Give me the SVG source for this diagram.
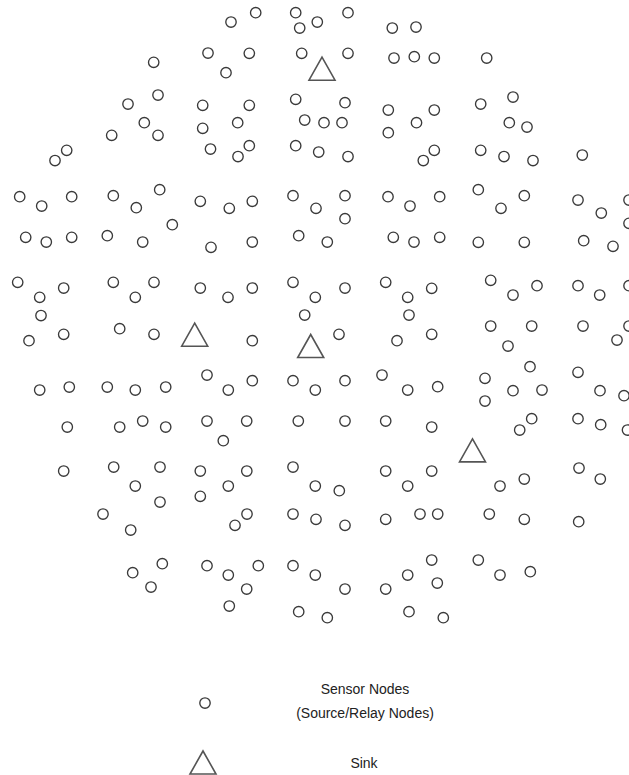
<svg xmlns="http://www.w3.org/2000/svg" width="629" height="775" viewBox="0 0 629 775">
<style>
.s{fill:none;stroke:#3a3a3a;stroke-width:1.35}
.k{fill:none;stroke:#555;stroke-width:1.6;stroke-linejoin:miter}
.t{font-family:"Liberation Sans",Arial,sans-serif;font-size:14px;fill:#222;text-anchor:middle}
</style>
<defs>
<circle id="c" r="5.2" class="s"/>
<path id="tri" d="M0,-11.5 L13,11.5 L-13,11.5 Z" class="k"/>
</defs>
<rect width="629" height="775" fill="#fff"/>
<g id="sensors">
<use id="s1" href="#c" x="231" y="22"/><use id="s2" href="#c" x="255.7" y="12.7"/><use id="s3" href="#c" x="295.7" y="12.7"/><use id="s4" href="#c" x="299.7" y="28"/><use id="s5" href="#c" x="317.3" y="22"/><use id="s6" href="#c" x="348" y="12.7"/><use id="s7" href="#c" x="392.3" y="28"/><use id="s8" href="#c" x="416" y="27"/>
<use id="s9" href="#c" x="153.7" y="62.3"/><use id="s10" href="#c" x="208" y="53"/><use id="s11" href="#c" x="249.3" y="53.3"/><use id="s12" href="#c" x="226" y="72.7"/><use id="s13" href="#c" x="301.7" y="53.3"/><use id="s14" href="#c" x="348" y="53.3"/><use id="s15" href="#c" x="394" y="58"/><use id="s16" href="#c" x="414.3" y="56.7"/><use id="s17" href="#c" x="434.3" y="58"/><use id="s18" href="#c" x="486.7" y="58"/>
<use id="s19" href="#c" x="158" y="95"/><use id="s20" href="#c" x="128" y="104"/><use id="s21" href="#c" x="144.3" y="122.7"/><use id="s22" href="#c" x="158" y="135.3"/><use id="s23" href="#c" x="111.7" y="135.3"/><use id="s24" href="#c" x="66.7" y="150.3"/><use id="s25" href="#c" x="55" y="160.5"/><use id="s26" href="#c" x="202.7" y="105.3"/><use id="s27" href="#c" x="202.7" y="128.3"/>
<use id="s28" href="#c" x="295.7" y="99.3"/><use id="s29" href="#c" x="345" y="102.7"/><use id="s30" href="#c" x="249.3" y="105.3"/><use id="s31" href="#c" x="237.7" y="122.7"/><use id="s32" href="#c" x="304.7" y="120"/><use id="s33" href="#c" x="324" y="122.7"/><use id="s34" href="#c" x="342" y="122.7"/><use id="s35" href="#c" x="388.3" y="110"/><use id="s36" href="#c" x="388.3" y="132.7"/><use id="s37" href="#c" x="416.5" y="122.7"/>
<use id="s38" href="#c" x="210.5" y="149"/><use id="s39" href="#c" x="249.3" y="145.7"/><use id="s40" href="#c" x="238" y="156.5"/><use id="s41" href="#c" x="295.7" y="145.7"/><use id="s42" href="#c" x="318.7" y="152"/><use id="s43" href="#c" x="348" y="156.5"/>
<use id="s44" href="#c" x="434.3" y="110"/><use id="s45" href="#c" x="480.7" y="104"/><use id="s46" href="#c" x="513" y="97"/><use id="s47" href="#c" x="509.3" y="122.7"/><use id="s48" href="#c" x="527" y="127"/><use id="s49" href="#c" x="434.3" y="150.3"/><use id="s50" href="#c" x="423.3" y="160.5"/><use id="s51" href="#c" x="480.7" y="150.3"/><use id="s52" href="#c" x="504" y="156.5"/><use id="s53" href="#c" x="533" y="160.5"/><use id="s54" href="#c" x="582.3" y="155"/>
<use id="s55" href="#c" x="19.7" y="196.7"/><use id="s56" href="#c" x="41.7" y="206"/><use id="s57" href="#c" x="71.7" y="196.7"/><use id="s58" href="#c" x="113.3" y="195.7"/><use id="s59" href="#c" x="136.3" y="207.7"/><use id="s60" href="#c" x="159.7" y="189.7"/><use id="s61" href="#c" x="200.3" y="201.3"/><use id="s62" href="#c" x="172.3" y="224.7"/>
<use id="s63" href="#c" x="25.7" y="237.3"/><use id="s64" href="#c" x="46.3" y="242"/><use id="s65" href="#c" x="71.7" y="237.3"/><use id="s66" href="#c" x="107.3" y="235.7"/><use id="s67" href="#c" x="142.7" y="242"/><use id="s68" href="#c" x="211" y="247.3"/>
<use id="s69" href="#c" x="229.3" y="208.3"/><use id="s70" href="#c" x="252.3" y="201.3"/><use id="s71" href="#c" x="293" y="195.7"/><use id="s72" href="#c" x="316" y="208.3"/><use id="s73" href="#c" x="345" y="195.7"/><use id="s74" href="#c" x="345" y="218.7"/><use id="s75" href="#c" x="388" y="196.7"/><use id="s76" href="#c" x="410" y="206"/>
<use id="s77" href="#c" x="252.3" y="242"/><use id="s78" href="#c" x="298.7" y="235.7"/><use id="s79" href="#c" x="327.3" y="242"/><use id="s80" href="#c" x="393.3" y="237.3"/><use id="s81" href="#c" x="414" y="242"/>
<use id="s82" href="#c" x="439.7" y="196.7"/><use id="s83" href="#c" x="478.3" y="189.7"/><use id="s84" href="#c" x="501" y="208.3"/><use id="s85" href="#c" x="524.3" y="195.7"/><use id="s86" href="#c" x="578" y="200"/><use id="s87" href="#c" x="601.3" y="213"/><use id="s88" href="#c" x="629" y="200"/><use id="s89" href="#c" x="629" y="223.3"/>
<use id="s90" href="#c" x="439.7" y="237.3"/><use id="s91" href="#c" x="478.3" y="242.3"/><use id="s92" href="#c" x="524.3" y="242.3"/><use id="s93" href="#c" x="583.7" y="240.7"/><use id="s94" href="#c" x="613" y="246.3"/>
<use id="s95" href="#c" x="17.7" y="282.3"/><use id="s96" href="#c" x="39.7" y="297.3"/><use id="s97" href="#c" x="63.7" y="288"/><use id="s98" href="#c" x="113.3" y="282.3"/><use id="s99" href="#c" x="135.3" y="297.3"/><use id="s100" href="#c" x="154" y="282.3"/><use id="s101" href="#c" x="200.3" y="288"/>
<use id="s102" href="#c" x="228" y="297.3"/><use id="s103" href="#c" x="252.3" y="288"/><use id="s104" href="#c" x="293" y="282.3"/><use id="s105" href="#c" x="315.3" y="297.3"/><use id="s106" href="#c" x="345" y="288"/><use id="s107" href="#c" x="385.7" y="282.3"/><use id="s108" href="#c" x="407.7" y="297.3"/>
<use id="s109" href="#c" x="431.7" y="288.3"/><use id="s110" href="#c" x="490.7" y="280.3"/><use id="s111" href="#c" x="513" y="295"/><use id="s112" href="#c" x="537" y="285.7"/><use id="s113" href="#c" x="578" y="285.7"/><use id="s114" href="#c" x="599.7" y="295"/><use id="s115" href="#c" x="629" y="285.7"/>
<use id="s116" href="#c" x="41" y="315.5"/><use id="s117" href="#c" x="29" y="340.7"/><use id="s118" href="#c" x="63.7" y="334.3"/><use id="s119" href="#c" x="119.7" y="328.7"/><use id="s120" href="#c" x="154" y="334.3"/>
<use id="s121" href="#c" x="304.7" y="315"/><use id="s122" href="#c" x="409" y="315"/><use id="s123" href="#c" x="252.3" y="340.7"/><use id="s124" href="#c" x="339" y="334.3"/><use id="s125" href="#c" x="397" y="340.7"/>
<use id="s126" href="#c" x="431.7" y="334.3"/><use id="s127" href="#c" x="490.7" y="326"/><use id="s128" href="#c" x="531.7" y="326"/><use id="s129" href="#c" x="508" y="346"/><use id="s130" href="#c" x="583" y="326"/><use id="s131" href="#c" x="617" y="340"/><use id="s132" href="#c" x="629" y="326"/>
<use id="s133" href="#c" x="39.7" y="390"/><use id="s134" href="#c" x="69.3" y="387"/><use id="s135" href="#c" x="107.3" y="387"/><use id="s136" href="#c" x="135.3" y="390"/><use id="s137" href="#c" x="165.7" y="387"/><use id="s138" href="#c" x="207" y="375"/>
<use id="s139" href="#c" x="228.3" y="390"/><use id="s140" href="#c" x="252.3" y="380.7"/><use id="s141" href="#c" x="293" y="380.7"/><use id="s142" href="#c" x="315.3" y="390"/><use id="s143" href="#c" x="345" y="380.7"/><use id="s144" href="#c" x="382" y="375"/><use id="s145" href="#c" x="407.7" y="390"/>
<use id="s146" href="#c" x="437.7" y="386.7"/><use id="s147" href="#c" x="485" y="378.3"/><use id="s148" href="#c" x="485" y="401"/><use id="s149" href="#c" x="513" y="390.7"/><use id="s150" href="#c" x="530" y="366.7"/><use id="s151" href="#c" x="542" y="390"/><use id="s152" href="#c" x="578" y="372.3"/><use id="s153" href="#c" x="600" y="390.7"/><use id="s154" href="#c" x="624" y="395.7"/>
<use id="s155" href="#c" x="67.3" y="427"/><use id="s156" href="#c" x="119.7" y="427"/><use id="s157" href="#c" x="142.7" y="421"/><use id="s158" href="#c" x="165.7" y="427"/><use id="s159" href="#c" x="207" y="421"/>
<use id="s160" href="#c" x="246.7" y="421"/><use id="s161" href="#c" x="223.3" y="440.7"/><use id="s162" href="#c" x="298.3" y="421"/><use id="s163" href="#c" x="345" y="421"/><use id="s164" href="#c" x="385.7" y="421"/>
<use id="s165" href="#c" x="431.7" y="427"/><use id="s166" href="#c" x="519.7" y="430"/><use id="s167" href="#c" x="531.7" y="418.7"/><use id="s168" href="#c" x="578" y="418.7"/><use id="s169" href="#c" x="600.7" y="424.7"/><use id="s170" href="#c" x="627.5" y="430"/>
<use id="s171" href="#c" x="63.7" y="471"/><use id="s172" href="#c" x="113.7" y="467"/><use id="s173" href="#c" x="160" y="467"/><use id="s174" href="#c" x="200.3" y="471"/><use id="s175" href="#c" x="135.3" y="486"/><use id="s176" href="#c" x="160" y="502"/><use id="s177" href="#c" x="200.3" y="496.3"/>
<use id="s178" href="#c" x="246.8" y="471"/><use id="s179" href="#c" x="293" y="467"/><use id="s180" href="#c" x="385.7" y="471"/><use id="s181" href="#c" x="228.3" y="486"/><use id="s182" href="#c" x="315.3" y="486"/><use id="s183" href="#c" x="339.3" y="490.7"/><use id="s184" href="#c" x="407.7" y="486"/>
<use id="s185" href="#c" x="431.7" y="471"/><use id="s186" href="#c" x="500" y="486"/><use id="s187" href="#c" x="524.3" y="479"/><use id="s188" href="#c" x="579" y="468"/><use id="s189" href="#c" x="600.3" y="479"/>
<use id="s190" href="#c" x="103" y="514"/><use id="s191" href="#c" x="130.7" y="530"/><use id="s192" href="#c" x="247" y="514"/><use id="s193" href="#c" x="235" y="525.3"/><use id="s194" href="#c" x="293" y="514"/><use id="s195" href="#c" x="316" y="519.3"/><use id="s196" href="#c" x="345" y="525.3"/><use id="s197" href="#c" x="385.7" y="519.3"/>
<use id="s198" href="#c" x="420" y="514"/><use id="s199" href="#c" x="437.7" y="514"/><use id="s200" href="#c" x="489.3" y="514"/><use id="s201" href="#c" x="524.3" y="519.3"/><use id="s202" href="#c" x="578.7" y="521.7"/>
<use id="s203" href="#c" x="162.3" y="563.7"/><use id="s204" href="#c" x="132.7" y="572.7"/><use id="s205" href="#c" x="151" y="587"/><use id="s206" href="#c" x="207" y="565.7"/><use id="s207" href="#c" x="228.3" y="575"/><use id="s208" href="#c" x="258.3" y="565.7"/><use id="s209" href="#c" x="246.7" y="589"/><use id="s210" href="#c" x="229.3" y="606"/>
<use id="s211" href="#c" x="293" y="565.7"/><use id="s212" href="#c" x="315.3" y="575"/><use id="s213" href="#c" x="345" y="589"/><use id="s214" href="#c" x="298.7" y="611.7"/><use id="s215" href="#c" x="327.3" y="617.7"/><use id="s216" href="#c" x="385.7" y="589"/><use id="s217" href="#c" x="407.7" y="575"/><use id="s218" href="#c" x="409" y="611.7"/>
<use id="s219" href="#c" x="431.7" y="560"/><use id="s220" href="#c" x="437.3" y="583"/><use id="s221" href="#c" x="443.3" y="617.7"/><use id="s222" href="#c" x="478.3" y="560"/><use id="s223" href="#c" x="500" y="575"/><use id="s224" href="#c" x="530.3" y="571.7"/>
</g>
<g id="sinks">
<g id="sink1"><use href="#tri" x="322" y="68.7"/></g>
<g id="sink2"><use href="#tri" x="194.7" y="334.7"/></g>
<g id="sink3"><use href="#tri" x="310.7" y="346"/></g>
<g id="sink4"><use href="#tri" x="472.5" y="450.4"/></g>
</g>
<g id="legend">
<g id="legend-sensor"><use href="#c" x="205" y="703"/>
<text class="t" x="365" y="694">Sensor Nodes</text>
<text class="t" x="365" y="718">(Source/Relay Nodes)</text></g>
<g id="legend-sink"><use href="#tri" x="203" y="762.5"/>
<text class="t" x="364" y="768">Sink</text></g>
</g>
</svg>
